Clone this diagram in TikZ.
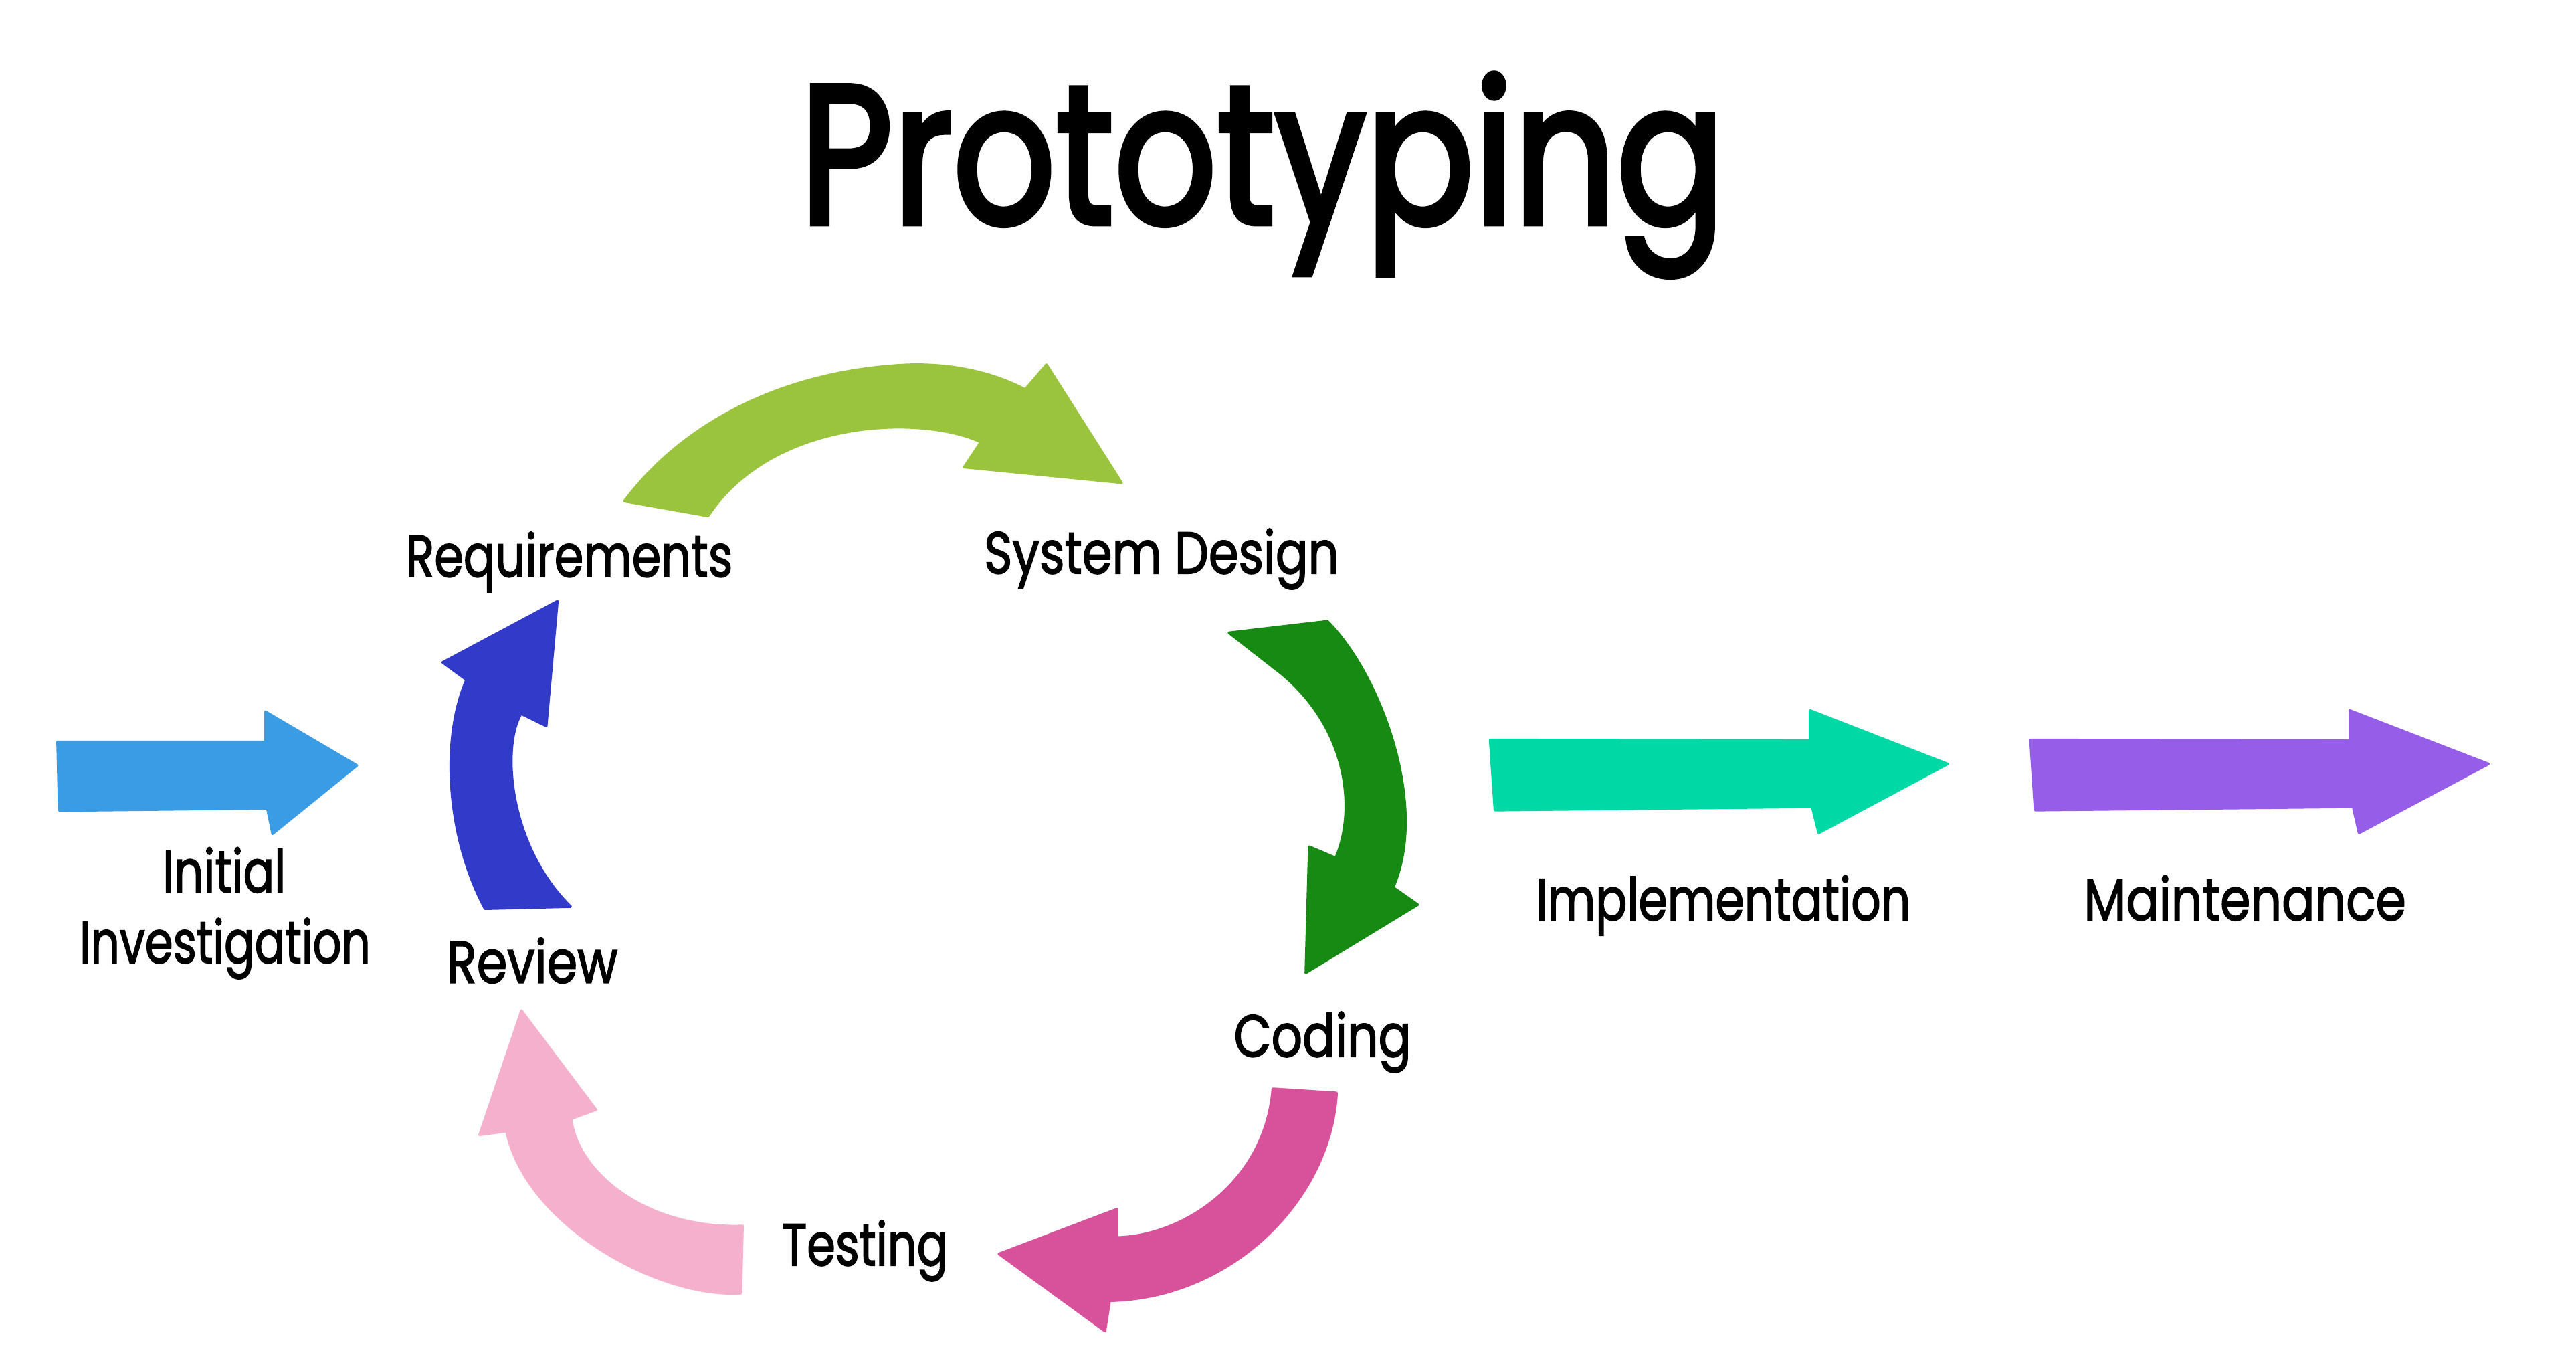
\documentclass[tikz,border=0pt]{standalone}
\usepackage{fontspec}
\usepackage{graphicx}
\setmainfont{Poppins}
\newfontfamily\labfont{Poppins}[FakeBold=2]
\newfontfamily\ttlfont{Poppins}[FakeBold=3]
\newcommand{\lbl}[2]{\resizebox{#1pt}{\height}{#2}}
\definecolor{cLB}{HTML}{3A9CE5}
\definecolor{cGY}{HTML}{9BC43E}
\definecolor{cDG}{HTML}{178A13}
\definecolor{cBL}{HTML}{323BC9}
\definecolor{cPK}{HTML}{F4B0CC}
\definecolor{cMG}{HTML}{D8529B}
\definecolor{cTL}{HTML}{00D9A6}
\definecolor{cPU}{HTML}{955DE8}
\tikzset{
  arr/.style={line join=round, line width=1.5pt},
  lab/.style={inner sep=0pt, outer sep=0pt, font=\fontsize{36}{43}\labfont, text=black},
  ttl/.style={inner sep=0pt, outer sep=0pt, font=\fontsize{120}{130}\ttlfont, text=black}
}
\begin{document}
\begin{tikzpicture}[x=1pt, y=-1pt]
\useasboundingbox (0,0) rectangle (1568,834);
\fill[white] (0,0) rectangle (1568,834);

% title
\node[ttl, anchor=base west] (title) at (487,136) {\lbl{563}{Prototyping}};

% straight arrows
\filldraw[arr, fill=cLB, draw=cLB] (35,451.4) -- (161.5,451.4) -- (161.5,433) -- (217.3,465.8) -- (165.9,507.4) -- (162.7,491.9) -- (36,493.3) -- cycle;
\filldraw[arr, fill=cTL, draw=cTL] (907,450.2) -- (1101.8,450.6) -- (1101.8,432.3) -- (1185.6,464.9) -- (1107,506.9) -- (1103,491) -- (909.9,493) -- cycle;
\filldraw[arr, fill=cPU, draw=cPU] (1235.9,450.2) -- (1430.3,450.6) -- (1430.3,432.3) -- (1514.8,464.9) -- (1435.9,506.9) -- (1432.3,491) -- (1238.7,493) -- cycle;

% requirements -> system design
\filldraw[arr, fill=cGY, draw=cGY]
  (380,305) .. controls (412,262) and (470,226) .. (552,222)
  .. controls (580,221) and (605,227) .. (624,237)
  -- (637,221.9) -- (682.7,293.8) -- (586.8,284.3) -- (597,269)
  .. controls (560,252) and (470,255) .. (431,314)
  -- cycle;

% system design -> coding
\filldraw[arr, fill=cDG, draw=cDG]
  (748,385) -- (808,378)
  .. controls (840,410) and (870,490) .. (848,540)
  -- (863,550.5) -- (794.8,592) -- (796.9,515.2) -- (813,522)
  .. controls (825,495) and (822,445) .. (780,410)
  -- cycle;

% coding -> testing
\filldraw[arr, fill=cMG, draw=cMG]
  (774.7,662.5) -- (813.6,665)
  .. controls (810,730) and (750,790) .. (675.5,791.6)
  -- (672.6,810) -- (608,763) -- (680,735.7) -- (680,753)
  .. controls (720,752) and (770,720) .. (774.7,662.5)
  -- cycle;

% testing -> review
\filldraw[arr, fill=cPK, draw=cPK]
  (452,746) -- (451,787)
  .. controls (400,790) and (320,745) .. (308.3,688.4)
  -- (291.9,690.6) -- (317.4,615) -- (362.8,675.3) -- (347.6,680.8)
  .. controls (352,715) and (395,748) .. (452,746)
  -- cycle;

% review -> requirements
\filldraw[arr, fill=cBL, draw=cBL]
  (295.2,553) .. controls (272,510) and (268,450) .. (283.9,413.7)
  -- (269.4,403.1) -- (339.3,365.8) -- (332.5,441.8) -- (317.2,434.3)
  .. controls (305,455) and (310,515) .. (347.4,551.7)
  -- cycle;

% labels
\node[lab, anchor=base west] (req) at (247,351) {\lbl{199}{Requirements}};
\node[lab, anchor=base west] (sysd) at (599,349) {\lbl{216}{System Design}};
\node[lab, anchor=base] (init) at (136.5,543) {\lbl{75}{Initial}};
\node[lab, anchor=base] (inv) at (137,586) {\lbl{177}{Investigation}};
\node[lab, anchor=base west] (rev) at (272,598) {\lbl{104}{Review}};
\node[lab, anchor=base west] (cod) at (751,643) {\lbl{108}{Coding}};
\node[lab, anchor=base west] (tst) at (476,770) {\lbl{101}{Testing}};
\node[lab, anchor=base west] (impl) at (935,560) {\lbl{228}{Implementation}};
\node[lab, anchor=base west] (mnt) at (1268.5,560) {\lbl{196}{Maintenance}};
\end{tikzpicture}
\end{document}
